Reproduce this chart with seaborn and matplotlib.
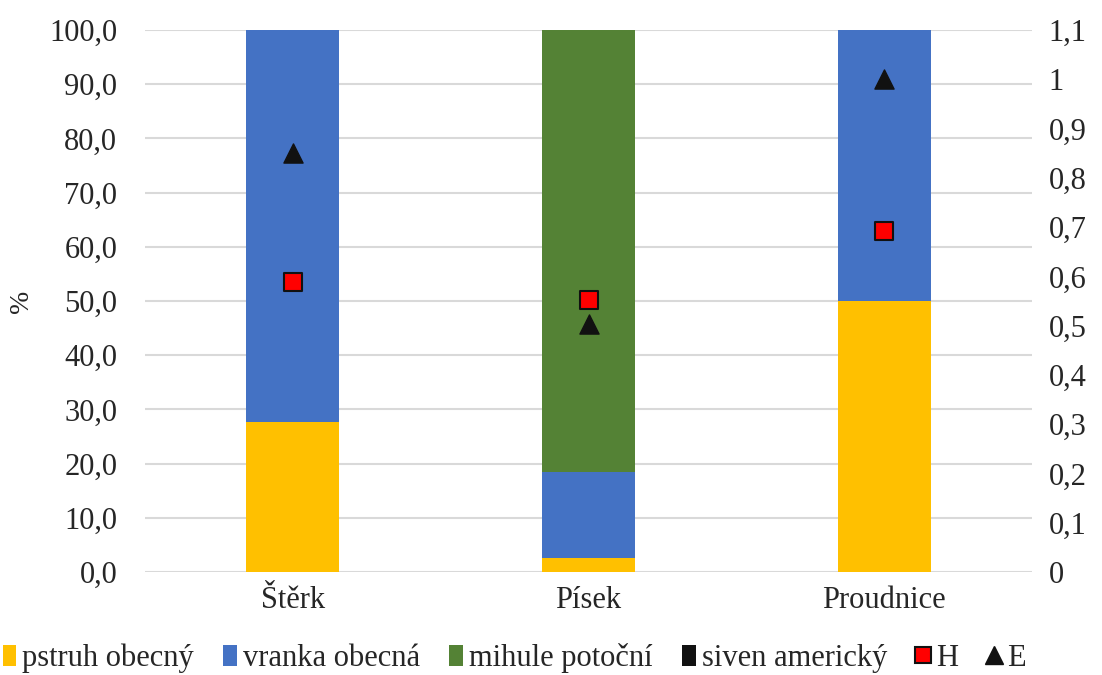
import numpy as np
import pandas as pd
import matplotlib
matplotlib.use("Agg")
import matplotlib.pyplot as plt
from matplotlib.lines import Line2D
from matplotlib.patches import Patch
import seaborn as sns

# Species composition (%) per habitat
habitats = ["Štěrk", "Písek", "Proudnice"]
pstruh = [27.6, 2.6, 50.0]
vranka = [72.4, 15.8, 50.0]
mihule = [0.0, 81.6, 0.0]
siven = [0.0, 0.0, 0.0]

# Diversity indices (right axis)
H = [0.589, 0.553, 0.693]
E = [0.850, 0.503, 1.0]

species = ["pstruh obecný", "vranka obecná", "mihule potoční", "siven americký"]
values = [pstruh, vranka, mihule, siven]
colors = ["#FFC000", "#4472C4", "#548235", "#111111"]

sns.set_theme(style="white")
plt.rcParams["font.family"] = ["Liberation Serif", "DejaVu Serif"]
plt.rcParams["font.size"] = 22

fig = plt.figure(figsize=(11.02, 6.75), dpi=100)
ax = fig.add_axes([0.1316, 0.1526, 0.805, 0.803])

bottom = np.zeros(len(habitats))
for name, vals, col in zip(species, values, colors):
    df = pd.DataFrame({"habitat": habitats, "value": vals})
    sns.barplot(data=df, x="habitat", y="value", color=col, width=0.315,
                bottom=bottom.copy(), ax=ax, saturation=1, linewidth=0,
                zorder=2)
    bottom += np.array(vals)

ax.set_ylim(0, 100)
ax.set_xlim(-0.5, 2.5)
ax.set_yticks(np.arange(0, 101, 10))
ax.set_yticklabels([f"{v:.1f}".replace(".", ",") for v in np.arange(0, 101, 10)],
                   fontsize=22)
ax.yaxis.grid(True, color="#d9d9d9", linewidth=1.5, zorder=0)
ax.set_axisbelow(True)
ax.set_xlabel("")
ax.set_ylabel("%", fontsize=20, va="center")
ax.yaxis.set_label_coords(-0.139, 0.5)
ax.tick_params(axis="x", labelsize=22, length=0, pad=10)
ax.tick_params(axis="y", length=0, pad=20)
for s in ax.spines.values():
    s.set_visible(False)

ax2 = ax.twinx()
ax2.set_ylim(0, 1.1)
rt = np.round(np.arange(0, 1.11, 0.1), 1)
ax2.set_yticks(rt)
ax2.set_yticklabels([("%g" % v).replace(".", ",") for v in rt], fontsize=22)
ax2.tick_params(axis="y", length=0, pad=12)
for s in ax2.spines.values():
    s.set_visible(False)
ax2.grid(False)

xpos = np.arange(len(habitats))
sns.scatterplot(x=xpos, y=H, marker="s", s=150, color="#FF0000",
                edgecolor="#111111", linewidth=1.5, ax=ax2, zorder=5)
sns.scatterplot(x=xpos, y=E, marker="^", s=190, color="#111111",
                edgecolor="#111111", linewidth=1, ax=ax2, zorder=5)
ax2.set_xlim(-0.5, 2.5)

handles = [Patch(facecolor=c, edgecolor="none") for c in colors]
handles += [
    Line2D([], [], marker="s", linestyle="none", markersize=12,
           markerfacecolor="#FF0000", markeredgecolor="#111111", markeredgewidth=1.5),
    Line2D([], [], marker="^", linestyle="none", markersize=13,
           markerfacecolor="#111111", markeredgecolor="#111111"),
]
labels = species + ["H", "E"]
fig.legend(handles, labels, loc="center", bbox_to_anchor=(514 / 1102, 1 - 658 / 675),
           ncol=6, frameon=False, fontsize=22, handlelength=0.45, handleheight=0.7,
           handletextpad=0.2, columnspacing=0.95, borderaxespad=0)

fig.savefig("out.png", dpi=100)
